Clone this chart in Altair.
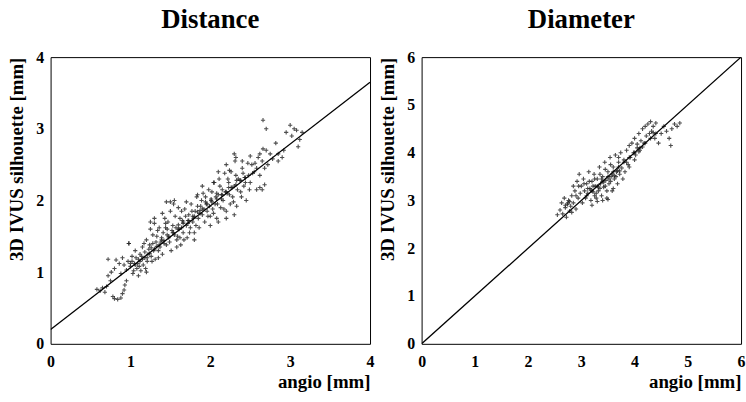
import altair as alt
import pandas as pd

# ---- Distance panel data (angio vs 3D IVUS silhouette, mm) ----
dist_x = [0.58,0.62,0.65,0.68,0.70,0.72,0.75,0.78,0.80,0.84,0.88,0.90,0.92,0.93,0.95,0.76,0.80,0.82,0.86,0.88,
          0.90,0.92,0.95,0.97,0.98,1.00,1.02,1.03,1.05,1.06,1.08,1.10,1.12,1.13,1.15,1.16,1.18,1.20,1.21,1.23,
          1.25,1.26,1.28,1.30,1.31,1.33,1.35,1.36,1.38,1.40,1.41,1.43,1.45,1.46,1.48,1.50,1.51,1.53,1.55,1.56,
          1.58,1.60,1.61,1.63,1.65,1.66,1.68,1.70,1.71,1.73,1.75,1.76,1.78,1.80,1.81,1.83,1.85,1.86,1.88,1.90,
          1.91,1.93,1.95,1.96,1.98,2.00,2.01,2.03,2.05,2.06,2.08,2.10,2.11,2.13,2.15,2.16,2.18,2.20,2.21,2.23,
          2.25,2.26,2.28,2.30,2.31,2.33,2.35,2.38,2.40,2.42,2.45,2.48,2.50,2.52,2.55,2.58,2.60,2.62,2.65,2.68,
          2.70,2.72,2.75,2.78,2.82,2.85,2.90,2.95,3.00,3.02,3.05,3.10,3.12,3.15,2.66,2.70,2.65,2.62,2.68,
          1.02,1.07,1.11,1.14,1.17,1.19,1.22,1.24,1.27,1.29,1.32,1.34,1.37,1.39,1.42,1.44,1.47,1.49,1.52,1.54,
          1.57,1.59,1.62,1.64,1.67,1.69,1.72,1.74,1.77,1.79,1.82,1.84,1.87,1.89,1.92,1.94,1.97,1.99,2.02,2.04,
          2.07,2.09,2.12,2.14,2.17,2.19,2.22,2.24,2.27,2.29,2.32,2.34,2.37,2.39,2.41,2.44,2.47,2.49,1.45,1.50,
          1.55,1.35,1.20,1.10,1.58,1.62,1.80,2.00,2.10,2.20,2.30,1.30,1.25,2.40,2.50,2.56,2.62,2.66,2.20,2.30,
          1.04,1.09,1.15,1.21,1.26,1.33,1.39,1.46,1.53,1.60,1.66,1.73,1.80,1.87,1.94,2.01,2.08,2.15,2.23,2.33,
          2.43,2.53,2.58,2.85,2.92,3.08,0.72,0.98,1.90,2.32,
          1.00,1.06,1.12,1.18,1.24,1.30,1.36,1.42,1.48,1.54,1.60,1.66,1.72,1.78,1.84,1.90,1.96,2.02,2.08,2.14,
          2.20,2.26,2.32,2.38,2.44,1.28,1.44,1.64,1.84,2.04,2.24,2.10,1.70,1.40]
dist_y = [0.76,0.74,0.78,0.72,0.80,0.95,0.88,0.66,0.63,0.62,0.64,0.70,0.75,0.82,0.88,1.00,1.05,1.17,1.12,0.98,
          1.20,1.10,1.03,1.15,1.40,1.08,1.22,0.98,1.12,1.30,1.05,1.18,1.25,1.02,1.35,1.10,1.28,1.45,1.15,1.32,
          1.60,1.22,1.40,1.68,1.18,1.50,1.30,1.62,1.42,1.25,1.55,1.75,1.38,1.60,1.48,1.85,1.30,1.65,1.52,1.78,
          1.45,1.90,1.60,1.38,1.72,1.55,1.88,1.65,1.48,1.80,1.62,1.95,1.70,1.55,1.85,2.05,1.75,1.62,1.92,1.80,
          2.10,1.70,1.95,1.85,2.15,1.78,2.00,1.88,2.25,1.95,1.75,2.08,2.30,1.90,2.15,2.00,2.38,1.85,2.10,2.25,
          1.95,2.40,2.05,2.20,2.55,1.92,2.30,2.12,2.45,2.20,2.00,2.35,2.25,2.50,2.40,2.15,2.60,2.35,2.55,2.45,
          2.70,2.50,2.65,2.58,2.80,2.55,2.60,2.95,3.05,2.90,3.00,2.75,2.85,2.95,3.12,3.00,2.15,2.18,2.22,
          1.15,1.20,1.08,1.22,1.40,1.05,1.25,1.38,1.15,1.30,1.42,1.58,1.35,1.48,1.40,1.62,1.70,1.42,1.58,1.95,
          1.62,1.50,1.75,1.62,1.45,1.78,1.68,1.55,1.85,1.75,1.65,1.92,1.82,2.00,1.88,2.05,1.78,1.92,2.12,1.82,
          2.05,1.95,2.20,2.02,1.88,2.12,2.30,2.08,2.18,1.98,2.35,2.15,2.28,2.05,2.38,2.25,2.52,2.15,1.98,1.98,
          2.00,1.20,1.00,0.95,1.35,1.48,1.45,1.65,1.70,1.75,1.80,1.75,1.70,2.55,2.62,2.52,2.65,2.72,2.50,2.65,
          1.02,1.12,1.18,1.20,1.34,1.36,1.45,1.52,1.55,1.66,1.70,1.72,1.78,1.86,1.98,2.02,2.10,2.08,2.18,2.28,
          2.32,2.38,2.45,2.65,2.70,2.98,1.18,1.40,2.20,2.60,
          1.12,1.10,1.15,1.20,1.26,1.32,1.38,1.44,1.50,1.55,1.60,1.68,1.72,1.78,1.84,1.88,1.95,1.98,2.02,2.08,
          2.12,2.18,2.22,2.28,2.32,1.52,1.68,1.85,2.08,2.25,2.42,2.40,1.98,1.82]
dist_fit_x = [0.0, 4.0]
dist_fit_y = [0.2, 3.65]

# ---- Diameter panel data ----
diam_x = [2.55,2.60,2.63,2.65,2.68,2.70,2.72,2.74,2.76,2.78,2.80,2.82,2.85,2.88,2.90,2.92,2.94,2.96,2.98,3.00,
          3.02,3.04,3.06,3.08,3.10,3.12,3.14,3.16,3.18,3.20,3.22,3.24,3.26,3.28,3.30,3.32,3.34,3.36,3.38,3.40,
          3.42,3.44,3.46,3.48,3.50,3.52,3.54,3.56,3.58,3.60,3.62,3.64,3.66,3.68,3.70,3.72,3.74,3.76,3.78,3.80,
          3.82,3.85,3.88,3.90,3.92,3.95,3.98,4.00,4.02,4.05,4.08,4.10,4.12,4.15,4.18,4.20,4.22,4.25,4.28,4.30,
          4.32,4.35,4.38,4.40,4.45,4.50,4.55,4.60,4.65,4.70,4.75,4.80,4.85,4.68,3.30,3.40,3.50,3.20,3.85,3.90,
          4.00,3.60,3.70,3.55,3.45,3.35,3.25,3.15,3.05,2.95,2.90,2.85,3.10,3.20,3.30,3.40,3.50,3.60,3.70,3.80,
          3.90,4.00,4.10,4.20,4.30,4.40,3.25,3.35,3.45,3.55,3.65,2.75,2.82,3.12,3.28,3.38,3.48,3.58,3.68,4.05,
          3.18,3.22,3.32,3.42,3.52,3.62,3.72,4.08,4.15,4.35,2.70,2.78]
diam_y = [2.70,2.80,2.95,2.72,3.05,2.85,2.65,2.92,3.00,2.78,2.88,3.10,2.95,3.20,2.82,3.40,3.05,3.55,3.15,3.30,
          2.95,3.45,3.20,3.05,3.35,3.15,3.60,3.25,3.00,3.40,3.18,3.55,3.30,3.05,3.45,3.20,3.70,3.35,3.10,3.50,
          3.28,3.80,3.42,3.05,3.60,3.35,3.90,3.50,3.20,3.70,3.45,3.95,3.60,3.35,3.80,3.55,4.00,3.68,3.45,3.85,
          3.60,4.05,3.75,4.15,3.90,4.20,4.00,4.30,3.95,4.10,4.40,4.05,4.25,4.50,4.20,4.55,4.35,4.60,4.40,4.65,
          4.45,4.55,4.30,4.62,4.20,4.40,4.55,4.45,4.30,4.50,4.60,4.55,4.62,4.15,2.98,3.00,3.02,2.90,3.80,3.70,
          3.85,3.25,3.90,3.75,3.65,3.55,3.45,3.40,3.35,3.30,3.10,3.30,3.10,3.20,3.30,3.40,3.50,3.60,3.70,3.80,
          3.90,4.00,4.10,4.20,4.30,4.40,3.10,3.25,3.30,3.40,3.50,2.95,2.75,3.25,3.15,3.45,3.20,3.55,3.62,4.18,
          3.22,3.30,3.28,3.38,3.45,3.52,3.62,4.02,4.12,4.42,2.90,2.98]
diam_fit_x = [0.0, 6.0]
diam_fit_y = [0.0, 6.0]

FONT = "Liberation Serif"
CROSS = "M-1,0H1M0,-1V1"


def panel(px, py, fx, fy, dmax, title, ticks):
    pts = pd.DataFrame({"angio": px, "ivus": py})
    fit = pd.DataFrame({"angio": fx, "ivus": fy})
    xs = alt.Scale(domain=[0, dmax], nice=False, zero=False)
    ys = alt.Scale(domain=[0, dmax], nice=False, zero=False)
    xax = alt.Axis(values=ticks, format="d", title="angio [mm]", titleAnchor="end",
                   labelPadding=10, titlePadding=3, labelFlush=False,
                   labelFont=FONT, titleFont=FONT)
    yax = alt.Axis(values=ticks, format="d", title="3D IVUS silhouette [mm]", titleAnchor="end",
                   labelPadding=7, titlePadding=9, labelFlush=False,
                   labelFont=FONT, titleFont=FONT)
    scatter = alt.Chart(pts).mark_point(shape=CROSS, size=18, filled=False, strokeWidth=1.1,
                                        color="#222222", opacity=0.8).encode(
        x=alt.X("angio:Q", scale=xs, axis=xax),
        y=alt.Y("ivus:Q", scale=ys, axis=yax),
    )
    line = alt.Chart(fit).mark_line(color="black", strokeWidth=1.3, clip=True).encode(
        x=alt.X("angio:Q", scale=xs, axis=xax),
        y=alt.Y("ivus:Q", scale=ys, axis=yax),
    )
    return alt.layer(scatter, line).properties(
        width=322, height=289,
        title=alt.TitleParams(title, anchor="middle", offset=15, font=FONT),
    )


left = panel(dist_x, dist_y, dist_fit_x, dist_fit_y, 4, "Distance", [0, 1, 2, 3, 4])
right = panel(diam_x, diam_y, diam_fit_x, diam_fit_y, 6, "Diameter", [0, 1, 2, 3, 4, 5, 6])

chart = alt.hconcat(left, right, spacing=3).properties(
    padding={"left": 7, "right": 0, "top": 4, "bottom": 0},
    background="white",
).configure(
    font=FONT
).configure_view(
    stroke="black", strokeWidth=1
).configure_axis(
    grid=False, ticks=False, domain=False,
    labelFont=FONT, labelFontSize=16, labelFontWeight="bold", labelColor="black",
    titleFont=FONT, titleFontSize=19, titleFontWeight="bold", titleColor="black",
).configure_title(
    font=FONT, fontSize=27, fontWeight="bold", color="black"
)

chart.save("out.html", embed_options={"renderer": "svg", "actions": False})
